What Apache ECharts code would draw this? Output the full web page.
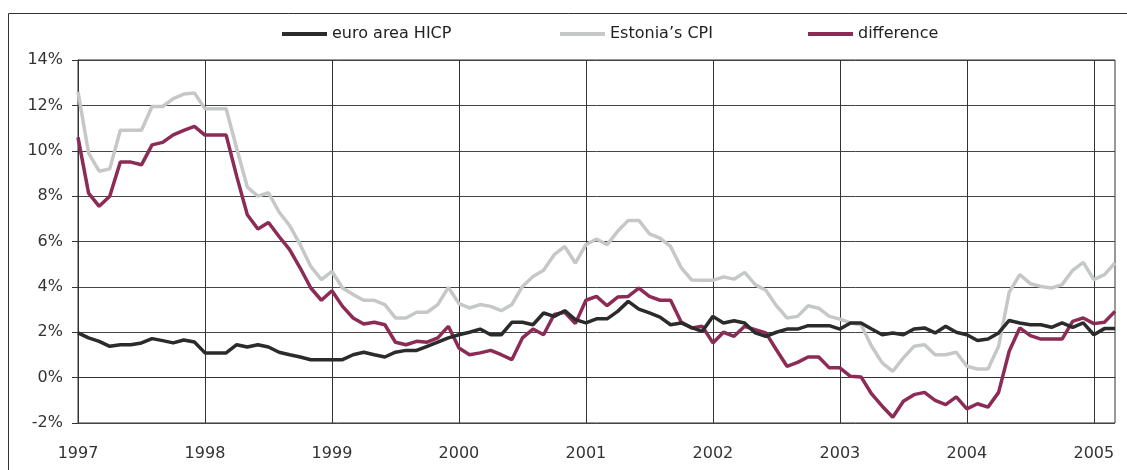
<!DOCTYPE html>
<html>
<head>
<meta charset="utf-8">
<script src="https://cdn.jsdelivr.net/npm/echarts@6/dist/echarts.min.js"></script>
<style>
  html, body { margin: 0; padding: 0; background: #fff; }
  #chart { width: 1127px; height: 470px; }
</style>
</head>
<body>
<div id="chart"></div>
<script>
// data, monthly from Jan 1997 to Mar 2005
const years = ['1997', '1998', '1999', '2000', '2001', '2002', '2003', '2004', '2005']
const seriesNames = ['euro area HICP', 'Estonia\u2019s CPI', 'difference']
const euroHICP = [
  1.97, 1.75, 1.6, 1.38, 1.45, 1.45, 1.53, 1.72, 1.63, 1.53, 1.66, 1.57,
  1.09, 1.09, 1.09, 1.45, 1.35, 1.45, 1.35, 1.12, 1.01, 0.91, 0.79, 0.79,
  0.79, 0.79, 1.01, 1.12, 1.01, 0.91, 1.12, 1.2, 1.2, 1.38, 1.56, 1.75,
  1.89, 2.0, 2.14, 1.89, 1.89, 2.44, 2.44, 2.33, 2.85, 2.7, 2.95, 2.56,
  2.41, 2.59, 2.59, 2.92, 3.36, 3.02, 2.85, 2.67, 2.33, 2.41, 2.2, 2.04,
  2.7, 2.41, 2.51, 2.41, 1.97, 1.82, 2.0, 2.14, 2.14, 2.29, 2.29, 2.29,
  2.14, 2.41, 2.41, 2.14, 1.89, 1.97, 1.89, 2.14, 2.19, 1.97, 2.26, 2.0,
  1.89, 1.64, 1.7, 1.97, 2.52, 2.41, 2.33, 2.33, 2.22, 2.41, 2.22, 2.41,
  1.89, 2.16, 2.16
]
const estoniaCPI = [
  12.6, 9.9, 9.1, 9.2, 10.9, 10.9, 10.9, 11.95, 11.95, 12.3, 12.5, 12.55,
  11.85, 11.85, 11.85, 10.1, 8.4, 8.0, 8.15, 7.3, 6.7, 5.86, 4.9, 4.32,
  4.68, 3.95, 3.66, 3.41, 3.41, 3.22, 2.63, 2.63, 2.88, 2.88, 3.22, 3.98,
  3.26, 3.07, 3.22, 3.14, 2.95, 3.22, 4.02, 4.46, 4.73, 5.42, 5.78, 5.05,
  5.86, 6.11, 5.86, 6.45, 6.93, 6.93, 6.34, 6.15, 5.78, 4.85, 4.3, 4.29,
  4.29, 4.44, 4.34, 4.64, 4.1, 3.85, 3.17, 2.63, 2.7, 3.17, 3.06, 2.7,
  2.58, 2.41, 2.33, 1.38, 0.65, 0.28, 0.87, 1.38, 1.45, 1.01, 1.01, 1.12,
  0.5, 0.38, 0.38, 1.38, 3.76, 4.54, 4.14, 4.02, 3.95, 4.1, 4.73, 5.08,
  4.32, 4.54, 5.05
]
const difference = [
  10.59, 8.13, 7.55, 7.99, 9.5, 9.5, 9.38, 10.26, 10.37, 10.7, 10.9, 11.07,
  10.69, 10.69, 10.69, 8.87, 7.18, 6.55, 6.84, 6.22, 5.64, 4.83, 3.95, 3.41,
  3.83, 3.14, 2.63, 2.36, 2.44, 2.33, 1.56, 1.45, 1.6, 1.56, 1.75, 2.26,
  1.31, 1.01, 1.09, 1.2, 1.01, 0.79, 1.75, 2.14, 1.89, 2.78, 2.88, 2.38,
  3.41, 3.58, 3.17, 3.55, 3.58, 3.95, 3.58, 3.41, 3.41, 2.45, 2.19, 2.26,
  1.53, 2.0, 1.82, 2.26, 2.11, 1.97, 1.23, 0.5, 0.67, 0.91, 0.91, 0.43,
  0.43, 0.06, 0.03, -0.72, -1.26, -1.75, -1.04, -0.75, -0.65, -1.0, -1.19, -0.85,
  -1.38, -1.15, -1.3, -0.65, 1.16, 2.19, 1.85, 1.7, 1.7, 1.7, 2.48, 2.63,
  2.38, 2.44, 2.92
]

// month categories, the label shows only the year at January
let months = []
for (let i = 0; i < euroHICP.length; i++) {
  let y = years[Math.floor(i / 12)]
  let m = (i % 12) + 1
  months.push(y + '-' + (m < 10 ? '0' + m : m))
}

(function () {
  let mychart = echarts.init(document.getElementById('chart'))
  let font = 'DejaVu Sans, sans-serif'
  let colors = ['#2b2b2b', '#c6c8c8', '#8c2b55']
  // 每个图例单独放置
  let legendLeft = [282, 560, 808]
  let legends = []
  for (let i = 0; i < seriesNames.length; i++) {
    legends.push({
      left: legendLeft[i],
      top: 26,
      padding: 0,
      itemWidth: 45,
      itemHeight: 4,
      icon: 'rect',
      textStyle: { fontSize: 16, color: '#222', fontFamily: font },
      data: [seriesNames[i]]
    })
  }
  let option = {
    backgroundColor: '#fff',
    animation: false,
    textStyle: { fontFamily: font },
    graphic: [{
      type: 'rect',
      shape: { x: 8.5, y: 13.5, width: 1200, height: 600 },
      style: { fill: 'none', stroke: '#333', lineWidth: 1 },
      silent: true
    }],
    legend: legends,
    grid: {
      left: 78,
      right: 12,
      top: 60,
      bottom: 47,
      show: true,
      borderColor: '#333',
      borderWidth: 1,
      containLabel: false
    },
    xAxis: {
      type: 'category',
      data: months,
      boundaryGap: false,
      axisLine: { lineStyle: { color: '#333', width: 1 } },
      axisTick: { show: false },
      axisLabel: {
        interval: 11,
        margin: 23,
        fontSize: 16,
        color: '#333',
        fontFamily: font,
        formatter: function (v) { return v.slice(0, 4) }
      },
      splitLine: { show: true, interval: 11, lineStyle: { color: '#333', width: 1 } }
    },
    yAxis: {
      type: 'value',
      min: -2,
      max: 14,
      interval: 2,
      axisLine: { show: true, lineStyle: { color: '#333', width: 1 } },
      axisTick: { show: true, length: 6, lineStyle: { color: '#333' } },
      axisLabel: {
        margin: 15,
        fontSize: 16,
        color: '#333',
        fontFamily: font,
        formatter: '{value}%'
      },
      splitLine: { lineStyle: { color: '#444', width: 1 } }
    },
    series: [
      {
        name: seriesNames[1],
        type: 'line',
        data: estoniaCPI,
        showSymbol: false,
        color: colors[1],
        lineStyle: { width: 3.5, color: colors[1] },
        z: 2
      },
      {
        name: seriesNames[2],
        type: 'line',
        data: difference,
        showSymbol: false,
        color: colors[2],
        lineStyle: { width: 3.5, color: colors[2] },
        z: 3
      },
      {
        name: seriesNames[0],
        type: 'line',
        data: euroHICP,
        showSymbol: false,
        color: colors[0],
        lineStyle: { width: 3.5, color: colors[0] },
        z: 4
      }
    ]
  }
  mychart.setOption(option)
  window.addEventListener('resize', function () {
    mychart.resize()
  })
})();
</script>
</body>
</html>
